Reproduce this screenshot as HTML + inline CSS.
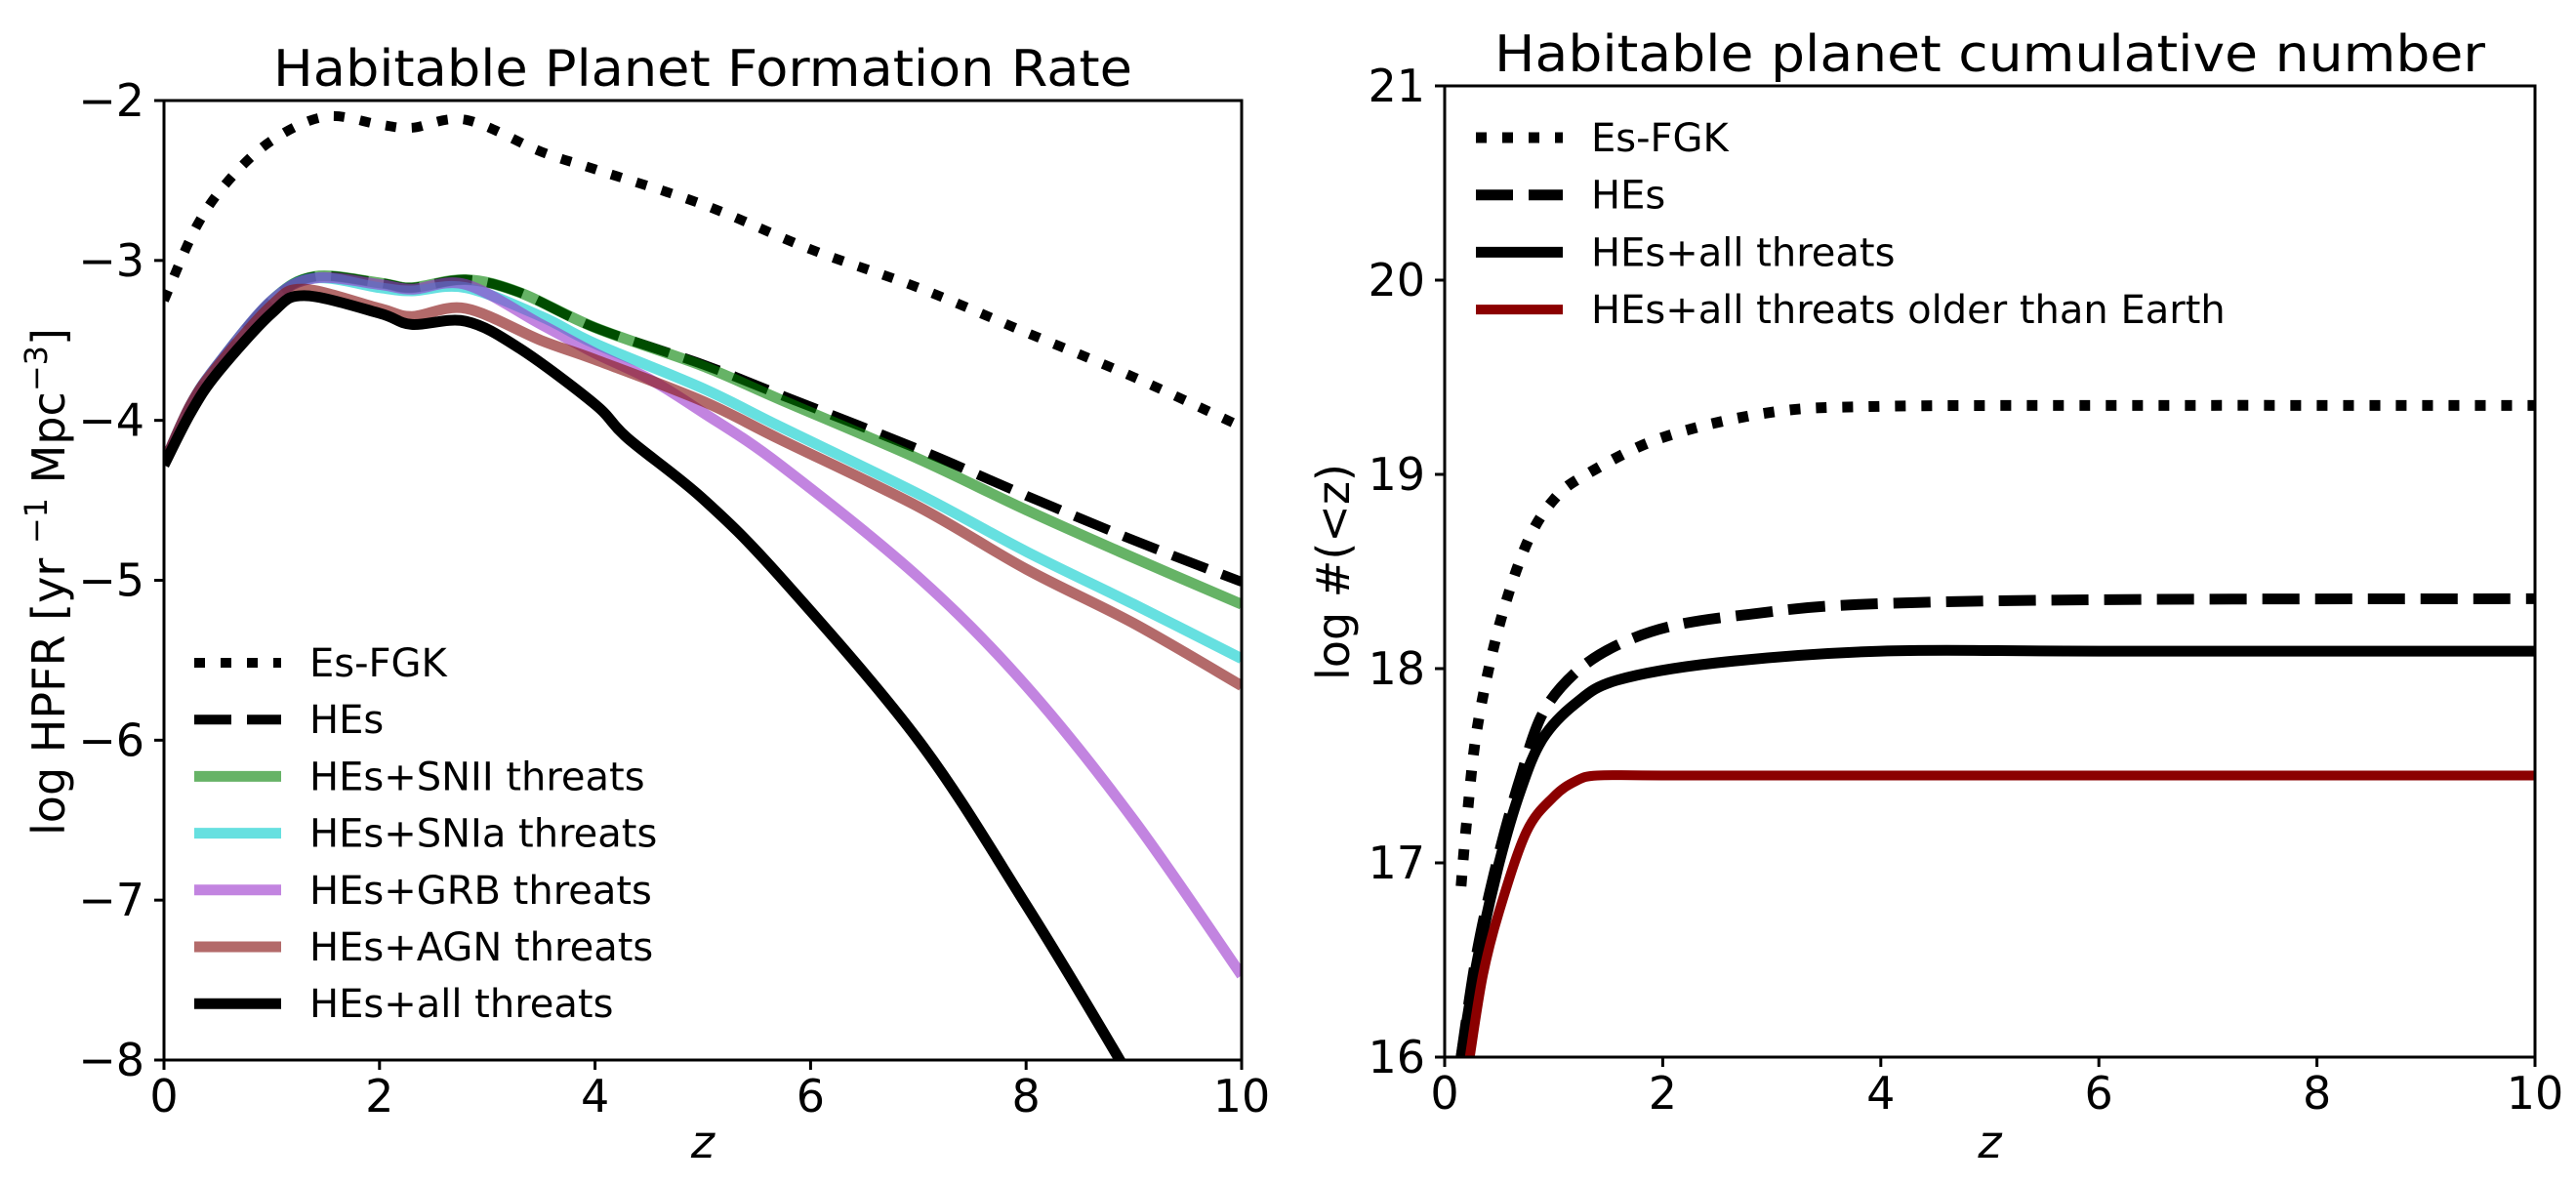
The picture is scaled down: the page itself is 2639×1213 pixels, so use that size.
<!DOCTYPE html>
<html><head><meta charset="utf-8">
<style>
html,body{margin:0;padding:0;background:#fff;}
svg{display:block;}
text{font-family:"DejaVu Sans","Liberation Sans",sans-serif;fill:#000;}
</style></head>
<body>
<svg id="fig" width="2639" height="1213" viewBox="0 0 2639 1213" xmlns="http://www.w3.org/2000/svg">
<rect width="2639" height="1213" fill="#fff"/>
<g id="left"></g>
<g id="right"></g>
</svg>
<script>
// ---------- Left chart data ----------
const zEsFGK = [0,0.3,0.6,1,1.5,2,2.3,2.8,3.5,4,5,6,7,8,9,10];
const vEsFGK = [-3.25,-2.79,-2.5,-2.25,-2.1,-2.15,-2.17,-2.12,-2.32,-2.43,-2.65,-2.93,-3.17,-3.45,-3.73,-4.04];
const zHEs = [0,0.25,0.5,1,1.4,2,2.3,2.8,3.3,4,5,5.72,7,8,9,10];
const vHEs = [-4.27,-3.9,-3.65,-3.25,-3.1,-3.14,-3.17,-3.12,-3.2,-3.42,-3.65,-3.84,-4.18,-4.47,-4.75,-5.01];
const zSNII = [0,0.25,0.5,1,1.4,2,2.3,2.8,3.3,4,5,5.72,7,8,9,10];
const vSNII = [-4.27,-3.9,-3.65,-3.25,-3.1,-3.14,-3.17,-3.12,-3.2,-3.42,-3.66,-3.87,-4.24,-4.56,-4.86,-5.15];
const zSNIa = [0,0.25,0.5,1,1.4,2,2.3,2.8,3.5,4,5,5.72,7,8,9,10];
const vSNIa = [-4.27,-3.9,-3.65,-3.25,-3.11,-3.17,-3.19,-3.17,-3.35,-3.52,-3.8,-4.04,-4.46,-4.82,-5.15,-5.49];
const zGRB = [0,0.25,0.5,1,1.4,2,2.3,2.8,3.5,4,4.5,5,5.72,7,8,9,10];
const vGRB = [-4.27,-3.9,-3.65,-3.25,-3.11,-3.15,-3.18,-3.15,-3.4,-3.58,-3.74,-3.95,-4.28,-4.98,-5.66,-6.5,-7.47];
const zAGN = [0,0.25,0.5,1,1.3,2,2.3,2.8,3.5,4,5,5.72,7,8,9,10];
const vAGN = [-4.27,-3.9,-3.66,-3.28,-3.18,-3.3,-3.35,-3.3,-3.5,-3.62,-3.88,-4.12,-4.54,-4.93,-5.27,-5.66];
const zAll = [0,0.25,0.5,1,1.3,2,2.3,2.8,3.3,4,4.3,5,5.72,7,8,8.87,9.2];
const vAll = [-4.28,-3.95,-3.7,-3.33,-3.22,-3.33,-3.4,-3.38,-3.55,-3.9,-4.11,-4.49,-4.98,-6.0,-7.03,-8.0,-8.4];
const leftXTicks = [0,2,4,6,8,10];
const leftYTicks = [-2,-3,-4,-5,-6,-7,-8];
const leftLegend = ["Es-FGK","HEs","HEs+SNII threats","HEs+SNIa threats","HEs+GRB threats","HEs+AGN threats","HEs+all threats"];

// ---------- Right chart data ----------
const rzEs = [0.15,0.2,0.3,0.5,0.75,1,1.3,2,3,4,6,10];
const rvEs = [16.88,17.2,17.7,18.22,18.64,18.87,19.0,19.19,19.32,19.35,19.355,19.355];
const rzHEs = [0.15,0.3,0.5,0.7,0.9,1.2,1.58,2.09,2.8,3.8,6,10];
const rvHEs = [16.0,16.55,17.05,17.45,17.77,17.98,18.12,18.22,18.28,18.33,18.355,18.36];
const rzAll = [0.15,0.3,0.5,0.7,0.9,1.2,1.58,2.5,4,6,10];
const rvAll = [16.0,16.5,17.0,17.38,17.64,17.82,17.94,18.03,18.09,18.09,18.09];
const rzOld = [0.23,0.35,0.5,0.75,1,1.2,1.4,2,4,10];
const rvOld = [16.0,16.42,16.75,17.16,17.34,17.42,17.45,17.45,17.45,17.45];
const rightXTicks = [0,2,4,6,8,10];
const rightYTicks = [16,17,18,19,20,21];
const rightLegend = ["Es-FGK","HEs","HEs+all threats","HEs+all threats older than Earth"];

const NS="http://www.w3.org/2000/svg";
function mk(parent,tag,attrs){const e=document.createElementNS(NS,tag);for(const k in attrs)e.setAttribute(k,attrs[k]);parent.appendChild(e);return e;}
function smoothPath(pts){
  let d=`M${pts[0][0].toFixed(1)},${pts[0][1].toFixed(1)}`;
  for(let i=0;i<pts.length-1;i++){
    const p0=pts[Math.max(0,i-1)],p1=pts[i],p2=pts[i+1],p3=pts[Math.min(pts.length-1,i+2)];
    const c1=[p1[0]+(p2[0]-p0[0])/6,p1[1]+(p2[1]-p0[1])/6];
    const c2=[p2[0]-(p3[0]-p1[0])/6,p2[1]-(p3[1]-p1[1])/6];
    d+=` C${c1[0].toFixed(1)},${c1[1].toFixed(1)} ${c2[0].toFixed(1)},${c2[1].toFixed(1)} ${p2[0].toFixed(1)},${p2[1].toFixed(1)}`;
  }
  return d;
}
const DOT="11 16", DASH="38 16";

function panel(g,cfg){
  const {x0,x1,y0,y1,xmin,xmax,ymin,ymax}=cfg;
  const sx=v=>x0+(v-xmin)/(xmax-xmin)*(x1-x0);
  const sy=v=>y1-(v-ymin)/(ymax-ymin)*(y1-y0);
  const clipId=cfg.id+"-clip";
  const defs=mk(g,"defs",{});
  const cp=mk(defs,"clipPath",{id:clipId});
  mk(cp,"rect",{x:x0,y:y0,width:x1-x0,height:y1-y0});
  const plot=mk(g,"g",{"clip-path":`url(#${clipId})`});
  
  
  cfg.series.forEach(s=>{
    const pts=s.z.map((z,i)=>[sx(z),sy(s.v[i])]);
    const p=mk(plot,"path",{d:smoothPath(pts),fill:"none",stroke:s.color,"stroke-width":s.w,"stroke-linejoin":"round"});
    if(s.dash)p.setAttribute("stroke-dasharray",s.dash);
    if(s.op)p.setAttribute("stroke-opacity",s.op);
    
    
  });
  const fr=mk(g,"rect",{x:x0,y:y0,width:x1-x0,height:y1-y0,fill:"none",stroke:"#000","stroke-width":3});
  
  
  cfg.xticks.forEach(t=>{
    const x=sx(t);
    mk(g,"line",{x1:x,y1:y1,x2:x,y2:y1+10,stroke:"#000","stroke-width":3});
    const tx=mk(g,"text",{x:x,y:y1+53,"font-size":46,"text-anchor":"middle"});
    tx.textContent=String(t);
    
    
  });
  cfg.yticks.forEach(t=>{
    const y=sy(t);
    mk(g,"line",{x1:x0-10,y1:y,x2:x0,y2:y,stroke:"#000","stroke-width":3});
    const tx=mk(g,"text",{x:x0-20,y:y+16,"font-size":46,"text-anchor":"end"});
    tx.textContent=t<0?"\u2212"+Math.abs(t):String(t);
    
    
  });
  const title=mk(g,"text",{x:(x0+x1)/2,y:cfg.titleY,"font-size":52,"text-anchor":"middle",textLength:cfg.titleW,lengthAdjust:"spacingAndGlyphs"});
  title.textContent=cfg.title;
  
  
  const xl=mk(g,"text",{x:(x0+x1)/2,y:1186,"font-size":46,"text-anchor":"middle","font-style":"italic"});
  xl.textContent="z";
  
  
  const yl=mk(g,"text",{x:0,y:0,"font-size":46,"text-anchor":"middle",transform:`translate(${cfg.ylabX},${cfg.ylabY}) rotate(-90)`});
  yl.innerHTML=cfg.ylabel;
  
  
  const lg=mk(g,"g",{});
  
  
  cfg.legend.forEach((lab,i)=>{
    const s=cfg.series[i]; const y=cfg.legY+i*cfg.legDy;
    const ent=mk(lg,"g",{});
    
    
    const l=mk(ent,"line",{x1:cfg.legX1,y1:y,x2:cfg.legX2,y2:y,stroke:s.color,"stroke-width":s.w});
    if(s.dash)l.setAttribute("stroke-dasharray",s.dash);
    if(s.op)l.setAttribute("stroke-opacity",s.op);
    const t=mk(ent,"text",{x:cfg.legTX,y:y+14,"font-size":40});
    t.textContent=lab;
  });
}

panel(document.getElementById("left"),{
  id:"left",x0:168,x1:1272,y0:103,y1:1086,xmin:0,xmax:10,ymin:-8,ymax:-2,
  xticks:leftXTicks,yticks:leftYTicks,title:"Habitable Planet Formation Rate",titleY:88,titleW:880,
  ylabel:'log  HPFR [yr <tspan dy="-18" font-size="32">\u22121</tspan><tspan dy="18"> Mpc</tspan><tspan dy="-18" font-size="32">\u22123</tspan><tspan dy="18">]</tspan>',
  ylabX:66,ylabY:596,
  legend:leftLegend,legY:679,legDy:58.2,legX1:199,legX2:288,legTX:317,
  series:[
    {name:"es-fgk",z:zEsFGK,v:vEsFGK,color:"#000",w:10,dash:DOT},
    {name:"hes",z:zHEs,v:vHEs,color:"#000",w:10,dash:DASH},
    {name:"snii",z:zSNII,v:vSNII,color:"#008000",w:11,op:0.6},
    {name:"snia",z:zSNIa,v:vSNIa,color:"#00cccc",w:11,op:0.6},
    {name:"grb",z:zGRB,v:vGRB,color:"#9932cc",w:11,op:0.6},
    {name:"agn",z:zAGN,v:vAGN,color:"#8b1a1a",w:11,op:0.65},
    {name:"all-threats",z:zAll,v:vAll,color:"#000",w:11}
  ]
});
panel(document.getElementById("right"),{
  id:"right",x0:1480,x1:2597,y0:88,y1:1083,xmin:0,xmax:10,ymin:16,ymax:21,
  xticks:rightXTicks,yticks:rightYTicks,title:"Habitable planet cumulative number",titleY:73,titleW:1015,
  ylabel:'log  #(&lt;z)',ylabX:1382,ylabY:586,
  legend:rightLegend,legY:141,legDy:58.7,legX1:1512,legX2:1601,legTX:1630,
  series:[
    {name:"es-fgk",z:rzEs,v:rvEs,color:"#000",w:11,dash:DOT},
    {name:"hes",z:rzHEs,v:rvHEs,color:"#000",w:11,dash:DASH},
    {name:"all-threats",z:rzAll,v:rvAll,color:"#000",w:11},
    {name:"older-than-earth",z:rzOld,v:rvOld,color:"#8b0000",w:10}
  ]
});
</script>
</body></html>
